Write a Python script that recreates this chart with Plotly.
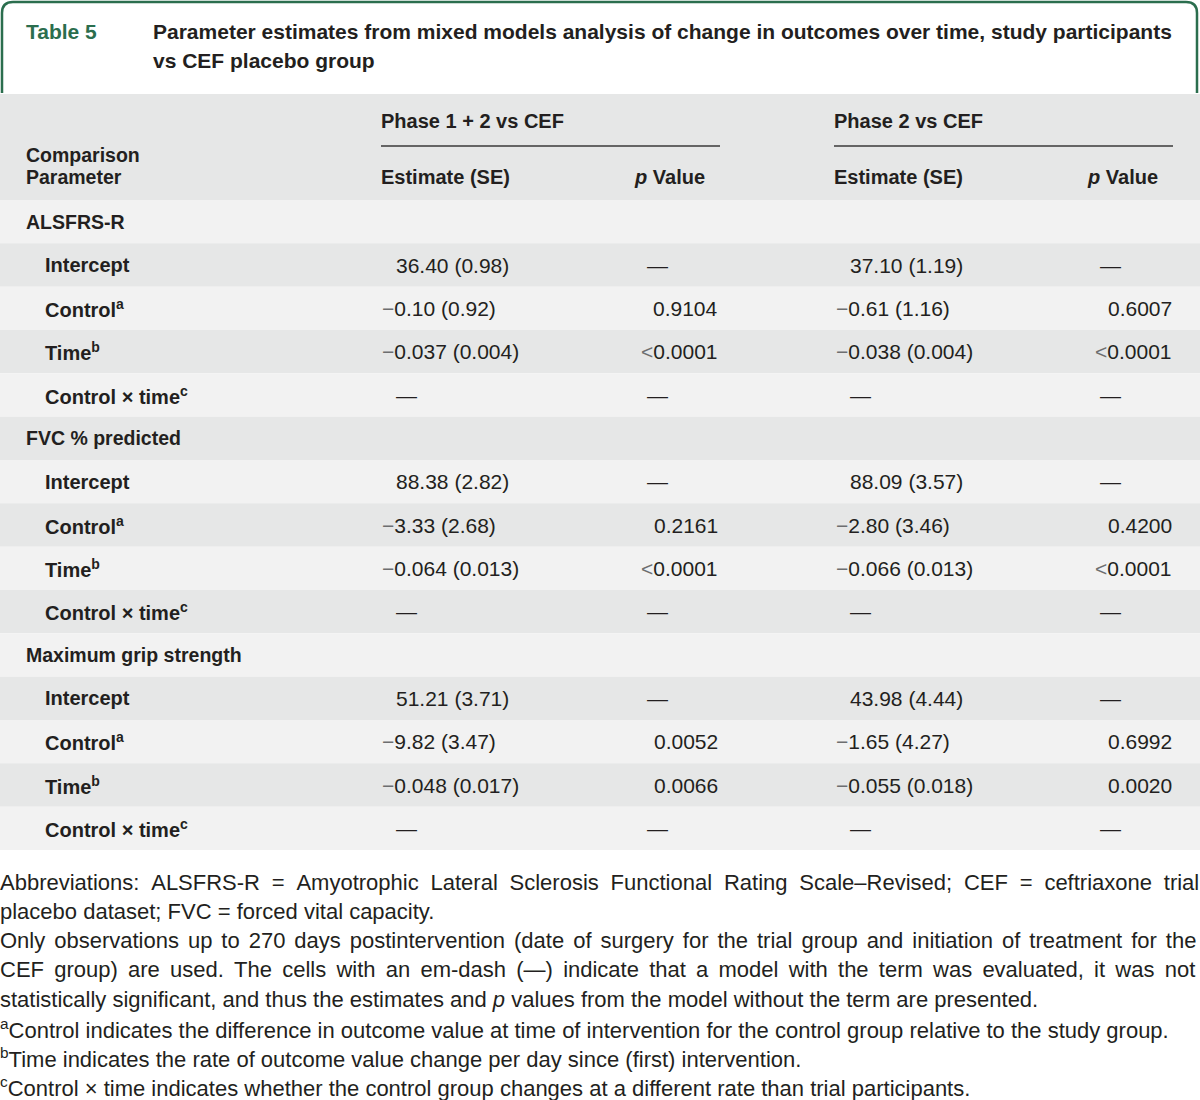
import plotly.graph_objects as go

# ---------------- data ----------------
table_label = "Table 5"
title_lines = [
    "Parameter estimates from mixed models analysis of change in outcomes over time, study participants",
    "vs CEF placebo group",
]
comparisons = ["Phase 1 + 2 vs CEF", "Phase 2 vs CEF"]
col_headers = ["Estimate (SE)", "<i>p</i> Value"]
groups = ["ALSFRS-R", "FVC % predicted", "Maximum grip strength"]
params = ["Intercept", "Control<sup>a</sup>", "Time<sup>b</sup>", "Control \u00d7 time<sup>c</sup>"]

p12_est = [
    ["36.40 (0.98)", "\u22120.10 (0.92)", "\u22120.037 (0.004)", "\u2014"],
    ["88.38 (2.82)", "\u22123.33 (2.68)", "\u22120.064 (0.013)", "\u2014"],
    ["51.21 (3.71)", "\u22129.82 (3.47)", "\u22120.048 (0.017)", "\u2014"],
]
p12_p = [
    ["\u2014", "0.9104", "&lt;0.0001", "\u2014"],
    ["\u2014", "0.2161", "&lt;0.0001", "\u2014"],
    ["\u2014", "0.0052", "0.0066", "\u2014"],
]
p2_est = [
    ["37.10 (1.19)", "\u22120.61 (1.16)", "\u22120.038 (0.004)", "\u2014"],
    ["88.09 (3.57)", "\u22122.80 (3.46)", "\u22120.066 (0.013)", "\u2014"],
    ["43.98 (4.44)", "\u22121.65 (4.27)", "\u22120.055 (0.018)", "\u2014"],
]
p2_p = [
    ["\u2014", "0.6007", "&lt;0.0001", "\u2014"],
    ["\u2014", "0.4200", "&lt;0.0001", "\u2014"],
    ["\u2014", "0.6992", "0.0020", "\u2014"],
]

footnotes = [
    "Abbreviations: ALSFRS-R = Amyotrophic Lateral Sclerosis Functional Rating Scale\u2013Revised; CEF = ceftriaxone trial",
    "placebo dataset; FVC = forced vital capacity.",
    "Only observations up to 270 days postintervention (date of surgery for the trial group and initiation of treatment for the",
    "CEF group) are used. The cells with an em-dash (\u2014) indicate that a model with the term was evaluated, it was not",
    "statistically significant, and thus the estimates and <i>p</i> values from the model without the term are presented.",
    "<sup>a</sup>Control indicates the difference in outcome value at time of intervention for the control group relative to the study group.",
    "<sup>b</sup>Time indicates the rate of outcome value change per day since (first) intervention.",
    "<sup>c</sup>Control \u00d7 time indicates whether the control group changes at a different rate than trial participants.",
]

# ---------------- style / layout constants ----------------
W, H = 1200, 1100
GREEN = "#2b6e4e"
TXT = "#231f20"
GRAY = "#e6e7e7"
LIGHT = "#f2f2f2"
FONT = "Liberation Sans, Arial, sans-serif"

HEAD_TOP, HEAD_BOT = 94, 200
ROW_H = (850 - HEAD_BOT) / 15.0

# extra pixels added across the word gaps to justify the footnote lines to the full width
JUSTIFY_PX = [68, 0, 54, 86, 0, 0, 0, 0]

fig = go.Figure()
fig.add_trace(go.Scatter(x=[0], y=[0], mode="markers", marker=dict(opacity=0), hoverinfo="skip", showlegend=False))

shapes = []
ann = []

def text(x, y, s, size=20, bold=False, color=TXT, xanchor="left", yanchor="middle"):
    if bold:
        s = "<b>" + s + "</b>"
    ann.append(dict(x=x, y=y, xref="x", yref="y", text=s, showarrow=False,
                    xanchor=xanchor, yanchor=yanchor, align="left",
                    borderpad=0, borderwidth=0,
                    font=dict(family=FONT, size=size, color=color)))

def soft_minus(s):
    return s.replace("\u2212", "<span style='color:#6d6e70'>\u2212</span>").replace(
        "&lt;", "<span style='color:#6d6e70'>&lt;</span>")

def justify(line, extra_px):
    if extra_px <= 0:
        return line
    words = line.split(" ")
    gaps = len(words) - 1
    fs = extra_px / gaps / 0.278
    pad = "<span style='font-size:%.1fpx'>&nbsp;</span>" % fs
    return (" " + pad).join(words)

# title frame
shapes.append(dict(type="path", xref="x", yref="y",
                   path="M 2,93 L 2,13 Q 2,2 13,2 L 1186,2 Q 1197,2 1197,13 L 1197,93",
                   line=dict(color=GREEN, width=2.5)))
text(26, 31, table_label, size=21, bold=True, color=GREEN)
for i, line in enumerate(title_lines):
    text(153, 31 + 29 * i, line, size=21, bold=True)

# header background
shapes.append(dict(type="rect", xref="x", yref="y", x0=0, x1=W, y0=HEAD_TOP, y1=HEAD_BOT,
                   fillcolor=GRAY, line=dict(width=0), layer="below"))

# body rows
row_labels = []
for g, grp in enumerate(groups):
    row_labels.append((grp, None, None))
    for k, par in enumerate(params):
        row_labels.append((par, g, k))

for i, (lab, g, k) in enumerate(row_labels):
    y0 = HEAD_BOT + i * ROW_H
    yc = y0 + ROW_H / 2
    shapes.append(dict(type="rect", xref="x", yref="y", x0=0, x1=W, y0=y0, y1=y0 + ROW_H,
                       fillcolor=LIGHT if i % 2 == 0 else GRAY, line=dict(width=0), layer="below"))
    if g is None:
        text(26, yc, lab, size=19.5, bold=True)
        continue
    text(45, yc, lab, size=20, bold=True)
    for est, pv, x_est, x_p, x_dash in ((p12_est, p12_p, 396, 718, 647),
                                         (p2_est, p2_p, 850, 1172, 1100)):
        e = est[g][k]
        if e.startswith("\u2212"):
            text(x_est - 14, yc, soft_minus(e), size=21)
        else:
            text(x_est, yc, e, size=21)
        p = pv[g][k]
        if p == "\u2014":
            text(x_dash, yc, p, size=21)
        else:
            text(x_p, yc, soft_minus(p), size=21, xanchor="right")

# header texts
for x0, x1, comp, pright in ((381, 720, comparisons[0], 705), (834, 1173, comparisons[1], 1158)):
    text(x0, 121, comp, size=20, bold=True)
    shapes.append(dict(type="line", xref="x", yref="y", x0=x0, x1=x1, y0=146, y1=146,
                       line=dict(color="#3a3a3a", width=1.5)))
    text(x0, 177, col_headers[0], size=20, bold=True)
    text(pright, 177, col_headers[1], size=20, bold=True, xanchor="right")
text(26, 155, "Comparison", size=19.5, bold=True)
text(26, 177, "Parameter", size=19.5, bold=True)

# footnotes
for i, line in enumerate(footnotes):
    text(0, 882 + 29.3 * i, justify(line, JUSTIFY_PX[i]), size=22)

fig.update_layout(
    width=W, height=H, margin=dict(l=0, r=0, t=0, b=0),
    paper_bgcolor="white", plot_bgcolor="white",
    xaxis=dict(range=[0, W], visible=False, fixedrange=True),
    yaxis=dict(range=[H, 0], visible=False, fixedrange=True),
    shapes=shapes, annotations=ann, showlegend=False,
)
fig.write_html("out.html", config={"displayModeBar": False},
               post_script="document.body.style.margin='0';document.body.style.overflow='hidden';")
